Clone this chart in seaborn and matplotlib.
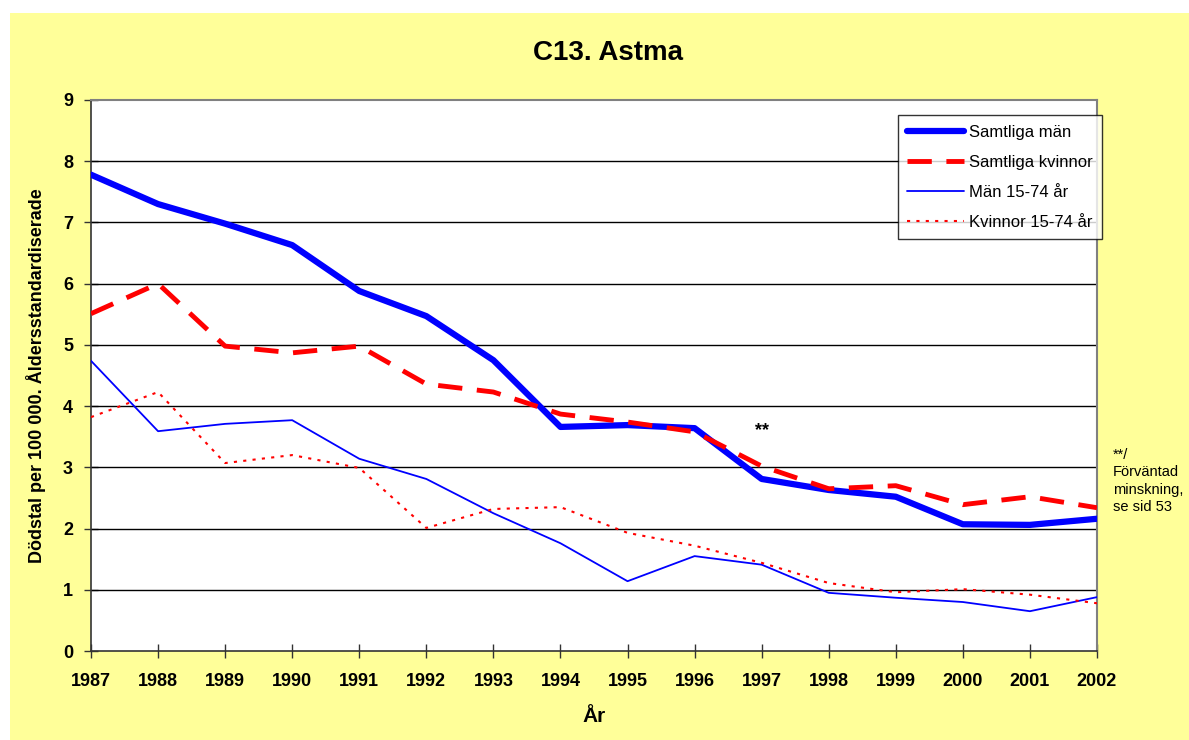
import pandas as pd
import matplotlib
matplotlib.use("Agg")
import matplotlib.pyplot as plt
import seaborn as sns
from matplotlib.patches import Rectangle

years = list(range(1987, 2003))
samtliga_man = [7.78, 7.30, 6.98, 6.63, 5.88, 5.47, 4.75, 3.66, 3.69, 3.64, 2.81, 2.63, 2.52, 2.07, 2.06, 2.16]
samtliga_kvinnor = [5.51, 6.00, 4.98, 4.87, 4.98, 4.36, 4.23, 3.87, 3.74, 3.58, 3.02, 2.65, 2.70, 2.39, 2.52, 2.34]
man_15_74 = [4.74, 3.59, 3.71, 3.77, 3.14, 2.81, 2.25, 1.76, 1.14, 1.55, 1.41, 0.95, 0.87, 0.80, 0.65, 0.88]
kvinnor_15_74 = [3.82, 4.23, 3.07, 3.20, 2.99, 2.01, 2.32, 2.35, 1.93, 1.72, 1.44, 1.11, 0.96, 1.01, 0.92, 0.78]

labels = ["Samtliga män", "Samtliga kvinnor", "Män 15-74 år", "Kvinnor 15-74 år"]
yticks = list(range(0, 10))


def main():
    sns.set_style("white")
    plt.rcParams["font.family"] = ["Liberation Sans", "DejaVu Sans"]
    plt.rcParams["text.color"] = "black"
    plt.rcParams["axes.labelcolor"] = "black"
    plt.rcParams["xtick.color"] = "black"
    plt.rcParams["ytick.color"] = "black"

    fig = plt.figure(figsize=(11.89, 7.40), dpi=100)
    fig.patch.set_facecolor("white")
    # yellow chart area with thin white margin top/left
    fig.patches.append(Rectangle((10 / 1189, 0), 1, 727 / 740, transform=fig.transFigure,
                                 facecolor="#FFFF99", edgecolor="none", zorder=-5))

    ax = fig.add_axes([91 / 1189, 89 / 740, 1006 / 1189, 551 / 740])
    ax.set_facecolor("white")

    df = pd.DataFrame({"year": years, labels[0]: samtliga_man, labels[1]: samtliga_kvinnor,
                       labels[2]: man_15_74, labels[3]: kvinnor_15_74})

    styles = {
        labels[0]: dict(color="#0000FF", lw=4.5, ls="-"),
        labels[1]: dict(color="#FF0000", lw=3.5, ls=(0, (5, 3))),
        labels[2]: dict(color="#0000FF", lw=1.3, ls="-"),
        labels[3]: dict(color="#FF0000", lw=1.5, ls=(0, (1.5, 3))),
    }
    for lab in labels:
        st = styles[lab]
        sns.lineplot(x="year", y=lab, data=df, ax=ax, label=lab, color=st["color"],
                     linewidth=st["lw"], linestyle=st["ls"], zorder=3)

    ax.set_xlim(1987, 2002)
    ax.set_ylim(0, 9)
    ax.set_xticks(years)
    ax.set_xticklabels([str(y) for y in years], fontsize=13, fontweight="bold")
    ax.set_yticks(yticks)
    ax.set_yticklabels([str(t) for t in yticks], fontsize=13, fontweight="bold")
    ax.tick_params(axis="both", direction="inout", length=10, width=1, color="#333333", pad=8,
                   bottom=True, left=True)
    ax.tick_params(axis="x", pad=11)

    for t in yticks[1:-1]:
        ax.axhline(t, color="black", lw=1, zorder=1)

    for side in ["top", "right"]:
        ax.spines[side].set_color("#808080")
        ax.spines[side].set_linewidth(1.5)
    for side in ["left", "bottom"]:
        ax.spines[side].set_color("#333333")
        ax.spines[side].set_linewidth(1.2)

    ax.set_xlabel("År", fontsize=15, fontweight="bold", labelpad=12)
    ax.set_ylabel("Dödstal per 100 000. Åldersstandardiserade", fontsize=13,
                  fontweight="bold", labelpad=12)
    fig.text(0.511, 0.928, "C13. Astma", ha="center", va="center", fontsize=20, fontweight="bold")

    leg = ax.legend(loc="upper right", bbox_to_anchor=(1.005, 0.972), borderaxespad=0,
                    fontsize=12, frameon=True, fancybox=False, edgecolor="black",
                    handlelength=3.4, labelspacing=0.9, borderpad=0.55, handletextpad=0.3)
    leg.get_frame().set_linewidth(1.0)
    leg.set_zorder(5)

    ax.text(1997, 3.6, "**", ha="center", va="center", fontsize=13, fontweight="bold")
    fig.text(1113 / 1189, 1 - 448 / 740, "**/\nFörväntad\nminskning,\nse sid 53", ha="left",
             va="top", fontsize=10.5, linespacing=1.3)

    fig.savefig("out.png", dpi=100)


if __name__ == "__main__":
    main()
